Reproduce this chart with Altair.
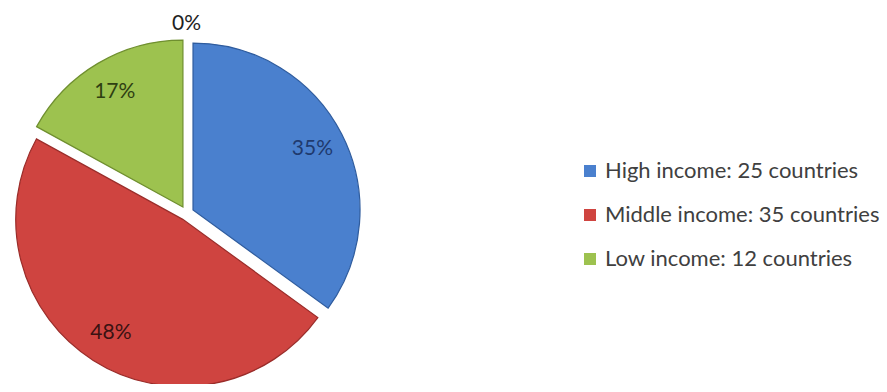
import altair as alt
import pandas as pd

# ---- data ----
categories = ["\u00a0High income: 25 countries", "Middle income: 35 countries",
              "Low income: 12 countries", "Unclassified"]
shares = [35, 48, 17, 0]
labels = ["35%", "48%", "17%", "0%"]
order = [0, 1, 2, 3]

# ---- styles ----
fill_colors = ["#4a80ce", "#cf4440", "#9dc24f", "#888888"]
edge_colors = ["#2f5c9e", "#9a2c29", "#6f8f2f", "#888888"]
text_colors = ["#1f3a6e", "#3a1212", "#2f3f12", "#222222"]

df = pd.DataFrame({"category": categories, "share": shares, "label": labels, "order": order})

W, H = 871, 376
CX, CY, R, EXPLODE = 178.6, 205.3, 167, 7.2

base = alt.Chart(df).transform_stack(
    stack="share", groupby=[], as_=["s0", "s1"], offset="normalize",
    sort=[alt.SortField("order", order="ascending")],
).transform_calculate(
    mid="(datum.s0 + datum.s1) / 2",
).transform_calculate(
    ox=f"{CX} + {EXPLODE} * sin(2 * PI * datum.mid)",
    oy=f"{CY} - {EXPLODE} * cos(2 * PI * datum.mid)",
)

theta_scale = alt.Scale(domain=[0, 1])

arcs = base.transform_filter("datum.share > 0").mark_arc(outerRadius=R, strokeWidth=1.2).encode(
    theta=alt.Theta("s0:Q", scale=theta_scale),
    theta2="s1:Q",
    x=alt.X("ox:Q", scale=None, axis=None),
    y=alt.Y("oy:Q", scale=None, axis=None),
    color=alt.Color(
        "category:N",
        scale=alt.Scale(domain=categories[:3], range=fill_colors[:3]),
        legend=alt.Legend(
            orient="none", legendX=571, legendY=152, title=None,
            symbolType="square", symbolSize=144, symbolStrokeWidth=0,
            labelFont="Lato", labelFontSize=22, labelColor="#404040",
            rowPadding=22, labelOffset=4, padding=0, labelLimit=400,
        ),
    ),
    stroke=alt.Stroke("category:N", scale=alt.Scale(domain=categories, range=edge_colors), legend=None),
)


def label_layer(test, radius):
    return base.transform_filter(test).mark_text(
        font="Lato", fontSize=21, align="center", baseline="middle"
    ).encode(
        x=alt.X("ox:Q", scale=None, axis=None),
        y=alt.Y("oy:Q", scale=None, axis=None),
        theta=alt.Theta("mid:Q", scale=theta_scale, stack=False),
        radius=alt.value(radius),
        text="label:N",
        color=alt.Color("category:N", scale=alt.Scale(domain=categories, range=text_colors), legend=None),
    )


inner_labels = label_layer("datum.share > 0", 134)
outer_labels = label_layer("datum.share == 0", 182)

chart = alt.layer(arcs, inner_labels, outer_labels).resolve_scale(color="independent").properties(
    width=W, height=H, padding=0, autosize="none",
).configure_view(strokeWidth=0)

chart.save("out.html", embed_options={"renderer": "svg", "actions": False})
